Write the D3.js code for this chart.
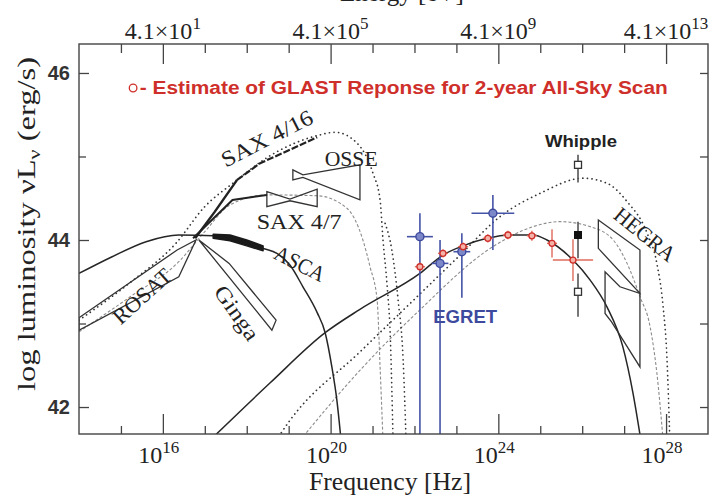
<!DOCTYPE html>
<html>
<head>
<meta charset="utf-8">
<script src="https://cdn.jsdelivr.net/npm/d3@7.9.0/dist/d3.min.js"></script>
<style>
  body { margin: 0; background: #fff; }
</style>
</head>
<body>
<svg id="sed" width="723" height="498"></svg>
<script>
// all curves are [log nu (Hz), log nuL_nu (erg/s)]
const lowSync = [[14.00,43.60],[14.79,43.80],[15.60,43.98],[16.38,44.06],[17.20,44.05],[17.84,44.00],[18.39,43.90],[18.72,43.84],[19.03,43.70],[19.34,43.44],[19.68,43.13],[19.87,42.89],[20.03,42.48],[20.15,42.08],[20.25,41.60]];
const lowIC = [[17.12,41.60],[18.56,42.29],[19.87,42.89],[20.70,43.17],[22.13,43.60],[22.68,43.82],[23.16,43.93],[23.73,44.02],[24.28,44.06],[24.83,44.06],[25.16,44.00],[25.78,43.76],[26.19,43.52],[26.59,43.20],[26.97,42.72],[27.21,42.17],[27.40,41.60]];
const highSync = [[14.00,43.04],[15.22,43.49],[16.31,43.96],[17.00,44.40],[17.67,44.68],[18.56,45.01],[19.68,45.25],[20.11,45.29],[20.63,45.16],[21.01,44.80],[21.18,44.48],[21.25,44.00],[21.35,43.44],[21.42,42.89],[21.49,41.60]];
const highSync2 = [[21.30,44.20],[21.46,43.88],[21.61,43.28],[21.73,42.56],[21.80,41.60]];
const midSync = [[14.00,42.90],[15.22,43.32],[16.38,43.74],[17.00,44.10],[17.60,44.42],[18.48,44.54],[19.68,44.53],[20.39,44.38],[20.77,44.00],[20.94,43.68],[21.11,43.28],[21.18,42.48],[21.25,41.60]];
const highIC = [[18.70,41.60],[19.03,41.84],[20.70,42.66],[22.06,43.32],[23.09,43.82],[24.04,44.28],[25.00,44.56],[26.02,44.74],[26.59,44.68],[27.07,44.46],[27.55,44.08],[27.78,43.72],[27.93,43.20],[28.02,42.60],[28.09,41.60]];
const midIC = [[19.27,41.60],[20.70,42.44],[22.06,43.13],[23.87,43.92],[24.83,44.16],[25.47,44.22],[26.19,44.16],[26.74,44.00],[27.07,43.72],[27.38,43.32],[27.62,42.96],[27.78,42.41],[27.93,41.60]];

// instrument spectra (bow-ties and tracks)
const sax416Low = [[16.77,44.02],[17.24,44.34],[17.77,44.72]];
const sax416High = [[17.77,44.72],[18.32,44.92],[19.03,45.08],[19.68,45.23]];
const sax47Track = [[16.72,44.02],[17.66,44.48],[18.48,44.54]];
const sax47Tie = [[18.48,44.58],[19.03,44.49],[19.68,44.61],[19.68,44.40],[19.03,44.47],[18.48,44.40]];
const osseTie = [[19.10,44.84],[19.34,44.78],[20.70,44.90],[20.70,44.48],[19.34,44.75],[19.10,44.72]];
const ascaTrack = [[17.20,44.07],[17.60,44.06],[18.00,44.00],[18.39,43.93],[18.39,43.87],[18.00,43.93],[17.60,43.99],[17.20,44.02]];
const gingaTie = [[16.86,44.00],[18.60,42.92],[18.70,43.04],[17.58,43.72]];
const rosatTie = [[14.00,43.07],[16.34,43.88],[16.79,44.00],[16.38,43.56],[14.00,42.92]];
const hegraUpper = [[26.385,44.24],[27.377,43.88],[27.377,43.36],[26.385,43.90]];
const hegraLower = [[26.545,43.62],[26.545,43.12],[26.70,43.02],[27.377,42.48],[27.377,43.36],[26.90,43.44]];

// EGRET (blue)
const egretNu = [22.13, 22.61, 23.13, 23.87];
const egretL = [44.04, 43.72, 43.86, 44.32];
const egretHi = [44.32, 44.00, 44.08, 44.54];
const egretLo = [41.0, 41.0, 43.31, 43.88];
const egretNuErr = [0.31, 0.20, 0.20, 0.51];

// GLAST estimate (red)
const glastNu = [22.13, 22.68, 23.16, 23.75, 24.23, 24.80, 25.28, 25.78];
const glastL = [43.68, 43.84, 43.92, 44.02, 44.06, 44.05, 43.96, 43.76];
const glastNuErr = [0.12, 0.12, 0.12, 0.12, 0.12, 0.12, 0.12, 0.48];
const glastLErr = [0.05, 0.05, 0.05, 0.05, 0.05, 0.06, 0.17, 0.25];

// Whipple
const whippleNu = 25.90;
const whippleOpen = [44.90, 43.38];
const whippleOpenErr = [[44.69, 45.02], [43.08, 43.60]];
const whippleFilled = 44.06;
const whippleFilledErr = [43.78, 44.22];

// axes
const xMajor = [16, 20, 24, 28];
const xMinor = [15, 17, 18, 19, 21, 22, 23, 25, 26, 27];
const yMajor = [42, 44, 46];
const yMinor = [43, 45];
const topMantissa = ["4.1×10", "4.1×10", "4.1×10", "4.1×10"];
const topExp = ["1", "5", "9", "13"];

const svg = d3.select("#sed");
const margin = { top: 44, right: 15, bottom: 64, left: 79 };
const width = +svg.attr("width") - margin.left - margin.right;
const height = +svg.attr("height") - margin.top - margin.bottom;
const g = svg.append("g").attr("transform", `translate(${margin.left},${margin.top})`);

const x = d3.scaleLinear().domain([14, 29]).range([0, width]);
const y = d3.scaleLinear().domain([41.677, 46.347]).range([height, 0]);

svg.append("defs").append("clipPath").attr("id", "plotClip")
  .append("rect").attr("width", width).attr("height", height);
const plot = g.append("g").attr("clip-path", "url(#plotClip)");

const curve = d3.line().x(d => x(d[0])).y(d => y(d[1])).curve(d3.curveMonotoneX);
const track = d3.line().x(d => x(d[0])).y(d => y(d[1]));
const closed = d3.line().x(d => x(d[0])).y(d => y(d[1])).curve(d3.curveLinearClosed);

const serif = "'Liberation Serif', 'Times New Roman', serif";
const sans = "'Liberation Sans', Arial, sans-serif";

// Model curves
[midSync, midIC].forEach(c => {
  plot.append("path").datum(c).attr("fill", "none")
    .attr("stroke", "#8c8c8c").attr("stroke-width", 1.1)
    .attr("stroke-dasharray", "3,2").attr("d", curve);
});
[highSync, highSync2, highIC].forEach(c => {
  plot.append("path").datum(c).attr("fill", "none")
    .attr("stroke", "#333").attr("stroke-width", 1.7)
    .attr("stroke-linecap", "round")
    .attr("stroke-dasharray", "0.1,4.5").attr("d", curve);
});
[lowSync, lowIC].forEach(c => {
  plot.append("path").datum(c).attr("fill", "none")
    .attr("stroke", "#262626").attr("stroke-width", 1.5).attr("d", curve);
});

// Instrument bow-ties
[sax47Tie, osseTie, gingaTie, rosatTie, hegraUpper, hegraLower].forEach(p => {
  plot.append("path").datum(p).attr("fill", "none")
    .attr("stroke", "#333").attr("stroke-width", 1.3).attr("d", closed);
});
plot.append("path").datum(ascaTrack).attr("fill", "#1a1a1a")
  .attr("stroke", "#1a1a1a").attr("stroke-width", 1.5)
  .attr("stroke-linejoin", "round").attr("d", closed);
plot.append("path").datum(sax416Low).attr("fill", "none")
  .attr("stroke", "#222").attr("stroke-width", 2.4).attr("d", track);
plot.append("path").datum(sax416High).attr("fill", "none")
  .attr("stroke", "#222").attr("stroke-width", 2.2)
  .attr("stroke-dasharray", "7,2").attr("d", track);
plot.append("path").datum(sax47Track).attr("fill", "none")
  .attr("stroke", "#222").attr("stroke-width", 2).attr("d", track);

// EGRET points
egretNu.forEach((nu, i) => {
  plot.append("line").attr("x1", x(nu)).attr("x2", x(nu))
    .attr("y1", y(egretHi[i])).attr("y2", y(egretLo[i]))
    .attr("stroke", "#4553a6").attr("stroke-width", 1.6);
  plot.append("line").attr("x1", x(nu - egretNuErr[i])).attr("x2", x(nu + egretNuErr[i]))
    .attr("y1", y(egretL[i])).attr("y2", y(egretL[i]))
    .attr("stroke", "#4553a6").attr("stroke-width", 1.6);
  plot.append("circle").attr("cx", x(nu)).attr("cy", y(egretL[i])).attr("r", 4)
    .attr("fill", "#7d88c8").attr("stroke", "#3d4a9e").attr("stroke-width", 1.4);
});

// GLAST estimate points
glastNu.forEach((nu, i) => {
  plot.append("line").attr("x1", x(nu - glastNuErr[i])).attr("x2", x(nu + glastNuErr[i]))
    .attr("y1", y(glastL[i])).attr("y2", y(glastL[i]))
    .attr("stroke", "#e06a5a").attr("stroke-width", 1.4);
  plot.append("line").attr("x1", x(nu)).attr("x2", x(nu))
    .attr("y1", y(glastL[i] + glastLErr[i])).attr("y2", y(glastL[i] - glastLErr[i]))
    .attr("stroke", "#e06a5a").attr("stroke-width", 1.4);
  plot.append("circle").attr("cx", x(nu)).attr("cy", y(glastL[i])).attr("r", 3)
    .attr("fill", "#f3b3a8").attr("stroke", "#cf2f2a").attr("stroke-width", 1.3);
});

// Whipple
whippleOpen.forEach((L, i) => {
  plot.append("line").attr("x1", x(whippleNu)).attr("x2", x(whippleNu))
    .attr("y1", y(whippleOpenErr[i][0])).attr("y2", y(whippleOpenErr[i][1]))
    .attr("stroke", "#555").attr("stroke-width", 1.6);
});
plot.append("line").attr("x1", x(whippleNu)).attr("x2", x(whippleNu))
  .attr("y1", y(whippleFilledErr[0])).attr("y2", y(whippleFilledErr[1]))
  .attr("stroke", "#555").attr("stroke-width", 1.6);
whippleOpen.forEach(L => {
  plot.append("rect").attr("x", x(whippleNu) - 3.5).attr("y", y(L) - 3.5)
    .attr("width", 7).attr("height", 7)
    .attr("fill", "#fff").attr("stroke", "#333").attr("stroke-width", 1.3);
});
plot.append("rect").attr("x", x(whippleNu) - 4).attr("y", y(whippleFilled) - 4)
  .attr("width", 8).attr("height", 8).attr("fill", "#111");

// Frame and ticks
g.append("rect").attr("width", width).attr("height", height)
  .attr("fill", "none").attr("stroke", "#444").attr("stroke-width", 1.4);

function ticks(axisFn, vals, size, transform) {
  const a = g.append("g").attr("transform", transform || null)
    .call(axisFn.tickValues(vals).tickSizeInner(size).tickSizeOuter(0).tickFormat(""));
  a.select(".domain").remove();
  a.selectAll("line").attr("stroke", "#444").attr("stroke-width", 1.3);
}
ticks(d3.axisBottom(x), xMajor, -20, `translate(0,${height})`);
ticks(d3.axisBottom(x), xMinor, -8, `translate(0,${height})`);
ticks(d3.axisTop(x), xMajor, -20);
ticks(d3.axisTop(x), xMinor, -9);
ticks(d3.axisLeft(y), yMajor, -10);
ticks(d3.axisLeft(y), yMinor, -7);
ticks(d3.axisRight(y), yMajor.concat(yMinor), -8, `translate(${width},0)`);

// Tick labels
xMajor.forEach(v => {
  const t = g.append("text").attr("x", x(v) - 4).attr("y", height + 29)
    .attr("text-anchor", "middle").attr("font-family", serif)
    .attr("font-size", 24).attr("fill", "#222");
  t.append("tspan").text("10");
  t.append("tspan").attr("dy", -10).attr("font-size", 17).text(v);
});
xMajor.forEach((v, i) => {
  const t = g.append("text").attr("x", x(v)).attr("y", -5)
    .attr("text-anchor", "middle").attr("font-family", serif)
    .attr("font-size", 24).attr("fill", "#222");
  t.append("tspan").text(topMantissa[i]);
  t.append("tspan").attr("dy", -10).attr("font-size", 17).text(topExp[i]);
});
yMajor.forEach(v => {
  g.append("text").attr("x", -9).attr("y", y(v) + 7)
    .attr("text-anchor", "end").attr("font-family", sans).attr("font-weight", "bold")
    .attr("font-size", 20).attr("fill", "#333").text(v);
});

// Axis titles
svg.append("text").attr("x", 390).attr("y", 490).attr("text-anchor", "middle")
  .attr("font-family", serif).attr("font-size", 25).attr("fill", "#222")
  .attr("textLength", 162).attr("lengthAdjust", "spacingAndGlyphs")
  .text("Frequency [Hz]");
// top title sits mostly above the picture edge, as in the original
svg.append("text").attr("x", 402).attr("y", 1).attr("text-anchor", "middle")
  .attr("font-family", serif).attr("font-size", 25).attr("fill", "#222")
  .text("Energy [eV]");
const yt = svg.append("text")
  .attr("transform", "translate(35,224) rotate(-90)")
  .attr("text-anchor", "middle").attr("font-family", serif)
  .attr("font-size", 25).attr("fill", "#222")
  .attr("textLength", 334).attr("lengthAdjust", "spacingAndGlyphs");
yt.append("tspan").text("log luminosity νL");
yt.append("tspan").attr("dy", 5).attr("font-size", 17).text("ν");
yt.append("tspan").attr("dy", -5).text(" (erg/s)");

// Instrument labels
const notes = [
  { text: "SAX 4/16", nu: 18.48, L: 45.22, angle: -27, len: 100 },
  { text: "OSSE", nu: 20.49, L: 44.98, angle: 0, len: 53 },
  { text: "SAX 4/7", nu: 19.25, L: 44.22, angle: 0, len: 85 },
  { text: "ASCA", nu: 19.27, L: 43.72, angle: 27, len: 54 },
  { text: "ROSAT", nu: 15.50, L: 43.33, angle: -42, len: 71 },
  { text: "Ginga", nu: 17.77, L: 43.13, angle: 55, len: 62 },
  { text: "HEGRA", nu: 27.50, L: 44.07, angle: 39, len: 72 }
];
notes.forEach(n => {
  g.append("text")
    .attr("transform", `translate(${x(n.nu)},${y(n.L)}) rotate(${n.angle})`)
    .attr("dy", "0.35em").attr("text-anchor", "middle")
    .attr("font-family", serif).attr("font-size", 22).attr("fill", "#222")
    .attr("textLength", n.len).attr("lengthAdjust", "spacingAndGlyphs")
    .text(n.text);
});

g.append("text").attr("x", x(25.97)).attr("y", y(45.19)).attr("dy", "0.35em")
  .attr("text-anchor", "middle").attr("font-family", sans).attr("font-weight", "bold")
  .attr("font-size", 17).attr("fill", "#222")
  .attr("textLength", 72).attr("lengthAdjust", "spacingAndGlyphs").text("Whipple");
g.append("text").attr("x", x(23.21)).attr("y", y(43.08)).attr("dy", "0.35em")
  .attr("text-anchor", "middle").attr("font-family", sans).attr("font-weight", "bold")
  .attr("font-size", 18).attr("fill", "#3d4a9e")
  .attr("textLength", 64).attr("lengthAdjust", "spacingAndGlyphs").text("EGRET");

// Legend
g.append("circle").attr("cx", x(15.29)).attr("cy", y(45.82)).attr("r", 3.8)
  .attr("fill", "none").attr("stroke", "#cf2f2a").attr("stroke-width", 1.3);
g.append("text").attr("x", x(15.45)).attr("y", y(45.82)).attr("dy", "0.35em")
  .attr("font-family", sans).attr("font-weight", "bold").attr("font-size", 18)
  .attr("fill", "#cf2f2a")
  .attr("textLength", 528).attr("lengthAdjust", "spacingAndGlyphs")
  .text("- Estimate of GLAST Reponse for 2-year All-Sky Scan");
</script>
</body>
</html>
